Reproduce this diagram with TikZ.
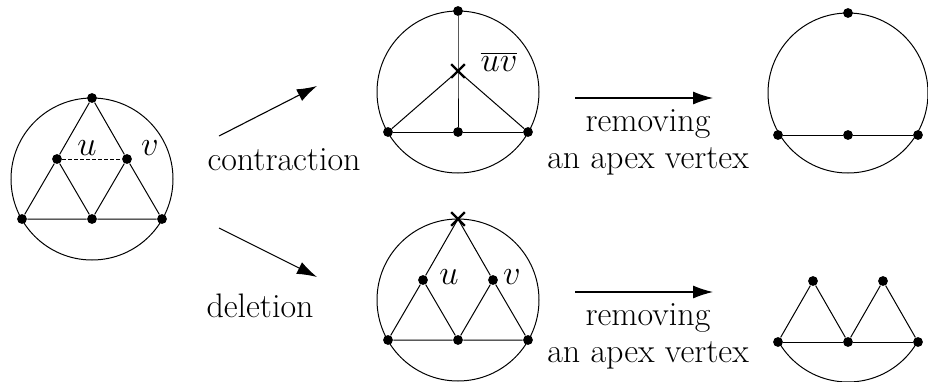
\documentclass[tikz,border=0pt]{standalone}
\usetikzlibrary{arrows.meta,shapes.misc}
\begin{document}
\begin{tikzpicture}[x=0.5pt,y=-0.5pt,
  vtx/.style={circle,fill,inner sep=0pt,minimum size=4.9pt},
  edge/.style={line width=0.5pt},
  xmark/.style={cross out,draw,inner sep=0pt,minimum size=5.6pt,line width=1.2pt},
  bigarrow/.style={line width=0.55pt,-{Latex[length=10pt,width=6.5pt]}},
  lbl/.style={font=\fontsize{17}{20}\selectfont,inner sep=0pt},
  dotted edge/.style={line width=0.5pt,dash pattern=on 1.6pt off 1.4pt}]
\useasboundingbox (0,0) rectangle (928,381);

% ---------- left graph ----------
\begin{scope}[shift={(92,179)}]
  \coordinate (a-c) at (0,0);
  \node[vtx] (a-t) at (0,-81) {};
  \node[vtx] (a-l) at (-70,40) {};
  \node[vtx] (a-m) at (0,40) {};
  \node[vtx] (a-r) at (70,40) {};
  \node[vtx] (a-u) at (-35,-20) {};
  \node[vtx] (a-v) at (35,-20) {};
  \draw[edge] (a-c) circle[radius=40.5pt];
  \draw[edge] (a-t) -- (a-u) -- (a-l) -- (a-m) -- (a-r) -- (a-v) -- (a-t);
  \draw[edge] (a-u) -- (a-m) -- (a-v);
  \draw[dotted edge] (a-u) -- (a-v);
  \node[lbl] (a-ul) at (-5,-31) {$u$};
  \node[lbl] (a-vl) at (58,-31) {$v$};
\end{scope}

% ---------- contraction result ----------
\begin{scope}[shift={(458,92)}]
  \coordinate (b-c) at (0,0);
  \node[vtx] (b-t) at (0,-81) {};
  \node[vtx] (b-l) at (-70,40) {};
  \node[vtx] (b-m) at (0,40) {};
  \node[vtx] (b-r) at (70,40) {};
  \node[xmark] (b-x) at (0,-21) {};
  \draw[edge] (b-c) circle[radius=40.5pt];
  \draw[edge] (b-l) -- (b-m) -- (b-r);
  \draw[edge] (b-t) -- (b-x.center) -- (b-m);
  \draw[edge] (b-l) -- (b-x.center) -- (b-r);
  \node[lbl] (b-lab) at (41,-30) {$\overline{uv}$};
\end{scope}

% ---------- deletion result ----------
\begin{scope}[shift={(458,300)}]
  \coordinate (c-c) at (0,0);
  \node[xmark] (c-x) at (0,-81) {};
  \node[vtx] (c-l) at (-70,40) {};
  \node[vtx] (c-m) at (0,40) {};
  \node[vtx] (c-r) at (70,40) {};
  \node[vtx] (c-u) at (-35,-20) {};
  \node[vtx] (c-v) at (35,-20) {};
  \draw[edge] (c-c) circle[radius=40.5pt];
  \draw[edge] (c-x.center) -- (c-u) -- (c-l) -- (c-m) -- (c-r) -- (c-v) -- (c-x.center);
  \draw[edge] (c-u) -- (c-m) -- (c-v);
  \node[lbl] (c-ul) at (-9,-23) {$u$};
  \node[lbl] (c-vl) at (54,-23) {$v$};
\end{scope}

% ---------- right top ----------
\begin{scope}[shift={(848,93)}]
  \coordinate (d-c) at (0,0);
  \node[vtx] (d-t) at (0,-80) {};
  \node[vtx] (d-l) at (-70,42) {};
  \node[vtx] (d-m) at (0,42) {};
  \node[vtx] (d-r) at (70,42) {};
  \draw[edge] (d-c) circle[radius=40pt];
  \draw[edge] (d-l) -- (d-m) -- (d-r);
\end{scope}

% ---------- right bottom ----------
\begin{scope}[shift={(848,302)}]
  \coordinate (e-c) at (0,0);
  \node[vtx] (e-l) at (-70,40) {};
  \node[vtx] (e-m) at (0,40) {};
  \node[vtx] (e-r) at (70,40) {};
  \node[vtx] (e-u) at (-35,-21) {};
  \node[vtx] (e-v) at (35,-21) {};
  \begin{scope}
    \clip (-90,40) rectangle (90,100);
    \draw[edge] (e-c) circle[radius=40pt];
  \end{scope}
  \draw[edge] (e-l) -- (e-u) -- (e-m) -- (e-v) -- (e-r);
  \draw[edge] (e-l) -- (e-m) -- (e-r);
\end{scope}

% ---------- arrows ----------
\coordinate (p1) at (219,136);
\coordinate (p2) at (317,86);
\coordinate (q1) at (219,228);
\coordinate (q2) at (317,277);
\coordinate (r1) at (575,98);
\coordinate (r2) at (713,98);
\coordinate (s1) at (575,292);
\coordinate (s2) at (713,292);
\draw[bigarrow] (p1) -- (p2);
\draw[bigarrow] (q1) -- (q2);
\draw[bigarrow] (r1) -- (r2);
\draw[bigarrow] (s1) -- (s2);

% ---------- labels ----------
\node[lbl,anchor=base] (t-con) at (284,170) {contraction};
\node[lbl,anchor=base] (t-del) at (260,317) {deletion};
\node[lbl,anchor=base] (t-r1) at (648,131) {removing};
\node[lbl,anchor=base] (t-a1) at (648,168) {an apex vertex};
\node[lbl,anchor=base] (t-r2) at (648,325) {removing};
\node[lbl,anchor=base] (t-a2) at (648,362) {an apex vertex};
\end{tikzpicture}
\end{document}
